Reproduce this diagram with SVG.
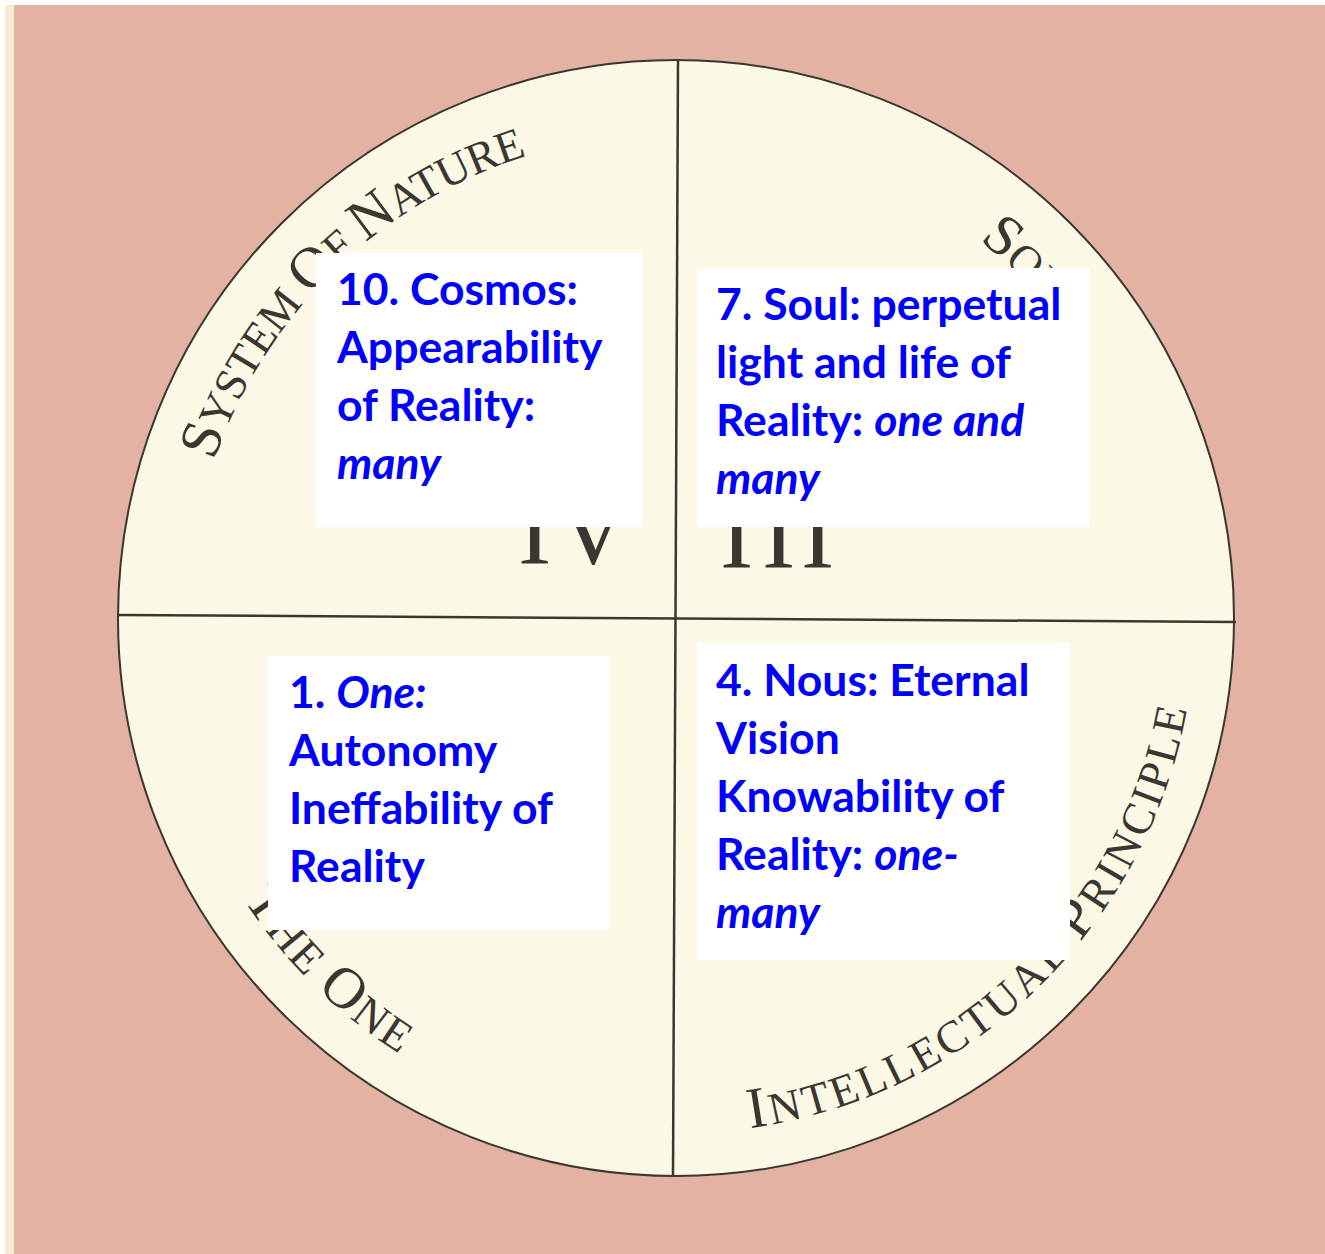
<svg xmlns="http://www.w3.org/2000/svg" width="1325" height="1254" viewBox="0 0 1325 1254">
<style>
.box{fill:#ffffff}
.bt{font-family:Lato,"Open Sans","Liberation Sans",sans-serif;font-weight:bold;font-size:44.5px;fill:#0000ff}
.it{font-style:italic}
.arc{font-family:"Liberation Serif","DejaVu Serif",serif;fill:#3a3632}
.big{font-size:58px}
.sm{font-size:45px}
.rn{font-family:"Liberation Serif","DejaVu Serif",serif;font-size:100px;fill:#3b3631}
.ln{stroke:#3a3632;stroke-width:2.5;fill:none}
</style>
<defs>
<path id="pNature" d="M 214 461 A 483 483 0 0 1 591.8 140.4"/>
<path id="pSoul" d="M 979 240 A 485 485 0 0 1 1144.5 492.5"/>
<path id="pOne" d="M 243.3 899 A 516 516 0 0 0 499.5 1102.9"/>
<path id="pIntel" d="M 750 1128 A 516 516 0 0 0 1195 600"/>
</defs>
<g id="background">
<rect x="0" y="0" width="1325" height="1254" fill="#ffffff"/>
<rect x="5" y="5" width="1320" height="1249" fill="#f6ecd4"/>
<rect x="14" y="5" width="1311" height="1249" fill="#e3b2a2"/>
</g>
<g id="disc">
<circle cx="676" cy="618" r="558" fill="#fbf8e6" stroke="#3a3632" stroke-width="2"/>
</g>
<g id="connectors">
<line class="ln" x1="678" y1="60" x2="673" y2="1176"/>
<line class="ln" x1="117" y1="615" x2="1236" y2="622"/>
</g>
<g id="arc-labels">
<text class="arc" letter-spacing="-0.5"><textPath href="#pNature"><tspan class="big">S</tspan><tspan class="sm">YSTEM </tspan><tspan class="big">O</tspan><tspan class="sm">F </tspan><tspan class="big">N</tspan><tspan class="sm">ATURE</tspan></textPath></text>
<text class="arc"><textPath href="#pSoul"><tspan class="big">S</tspan><tspan class="sm">OUL</tspan></textPath></text>
<text class="arc" letter-spacing="2.2"><textPath href="#pOne"><tspan class="big">T</tspan><tspan class="sm">HE </tspan><tspan class="big">O</tspan><tspan class="sm">NE</tspan></textPath></text>
<text class="arc" letter-spacing="3"><textPath href="#pIntel"><tspan class="big">I</tspan><tspan class="sm">NTELLECTUAL </tspan><tspan class="big">P</tspan><tspan class="sm">RINCIPLE</tspan></textPath></text>
</g>
<g id="numerals">
<text class="rn" x="518 557" y="563">IV</text>
<text class="rn" x="720 762 801" y="567">III</text>
</g>
<g id="node-cosmos">
<rect class="box" x="316" y="253" width="327" height="274"/>
<text class="bt" x="337" y="305">10. Cosmos:</text>
<text class="bt" x="337" y="363">Appearability</text>
<text class="bt" x="337" y="421">of Reality:</text>
<text class="bt it" x="337" y="479">many</text>
</g>
<g id="node-soul">
<rect class="box" x="697" y="268" width="392" height="259"/>
<text class="bt" x="716" y="320">7. Soul: perpetual</text>
<text class="bt" x="716" y="378">light and life of</text>
<text class="bt" x="716" y="436">Reality: <tspan class="it">one and</tspan></text>
<text class="bt it" x="716" y="494">many</text>
</g>
<g id="node-one">
<rect class="box" x="268" y="656" width="341" height="274"/>
<text class="bt" x="289" y="708">1. <tspan class="it">One:</tspan></text>
<text class="bt" x="289" y="766">Autonomy</text>
<text class="bt" x="289" y="824">Ineffability of</text>
<text class="bt" x="289" y="882">Reality</text>
</g>
<g id="node-nous">
<rect class="box" x="697" y="643" width="373" height="317"/>
<text class="bt" x="716" y="696">4. Nous: Eternal</text>
<text class="bt" x="716" y="754">Vision</text>
<text class="bt" x="716" y="812">Knowability of</text>
<text class="bt" x="716" y="870">Reality: <tspan class="it">one-</tspan></text>
<text class="bt it" x="716" y="928">many</text>
</g>
</svg>
